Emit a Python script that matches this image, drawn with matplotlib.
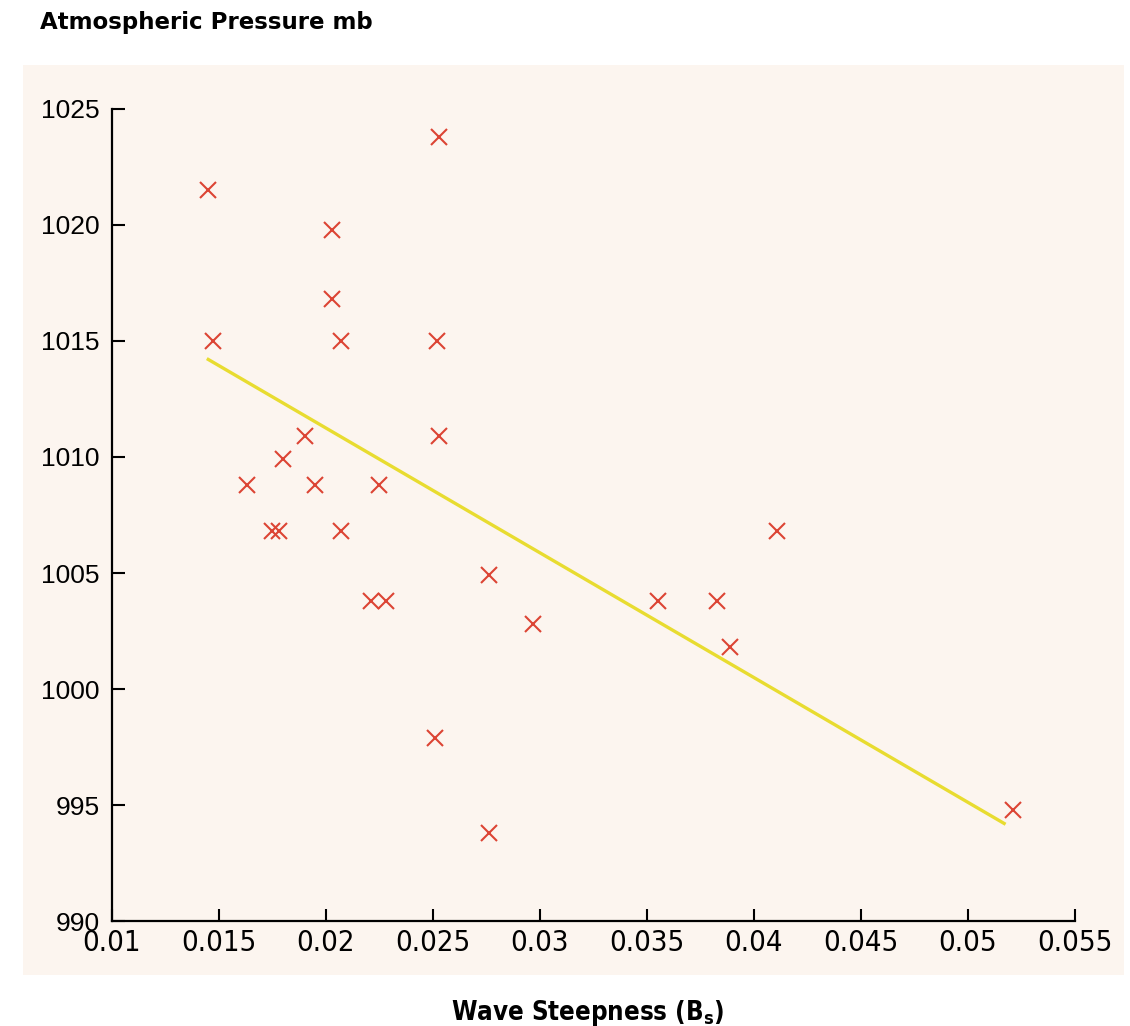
import numpy as np
import matplotlib.pyplot as plt
from matplotlib.patches import Rectangle

# wave steepness vs atmospheric pressure
steepness = [0.0145, 0.0253, 0.0203, 0.0203, 0.0147, 0.0207, 0.0252,
             0.0190, 0.0253, 0.0163, 0.0180, 0.0195, 0.0225, 0.0175,
             0.0178, 0.0207, 0.0276, 0.0221, 0.0228, 0.0297, 0.0251,
             0.0276, 0.0355, 0.0383, 0.0389, 0.0411, 0.0521]
pressure = [1021.5, 1023.8, 1019.8, 1016.8, 1015.0, 1015.0, 1015.0,
            1010.9, 1010.9, 1008.8, 1009.9, 1008.8, 1008.8, 1006.8,
            1006.8, 1006.8, 1004.9, 1003.8, 1003.8, 1002.8, 997.9,
            993.8, 1003.8, 1003.8, 1001.8, 1006.8, 994.8]

# published trend line (pressure = slope * steepness + intercept)
trend_slope = -537.6
trend_intercept = 1022.0
trend_range = [0.0145, 0.0517]

xticks = [0.01, 0.015, 0.02, 0.025, 0.03, 0.035, 0.04, 0.045, 0.05, 0.055]
xticklabels = ['0.01', '0.015', '0.02', '0.025', '0.03', '0.035', '0.04',
               '0.045', '0.05', '0.055']
yticks = [990, 995, 1000, 1005, 1010, 1015, 1020, 1025]

fig = plt.figure(figsize=(11.3, 10.26), dpi=100)
# paper tint behind the plot
fig.patches.append(Rectangle((0.02, 0.05), 0.975, 0.887, transform=fig.transFigure,
                             facecolor='#fcf5ef', edgecolor='none', zorder=-5))
ax = fig.add_axes([0.0991, 0.1023, 0.852, 0.7915])
ax.patch.set_alpha(0)

xs = np.array(trend_range)
ax.plot(xs, trend_slope * xs + trend_intercept, color='#e8dc30', lw=2.4, zorder=2)
ax.plot(steepness, pressure, 'x', color='#dc4434', ms=12, mew=1.5, zorder=3)

ax.set_xlim(0.01, 0.055)
ax.set_ylim(990, 1025)
ax.set_xticks(xticks)
ax.set_xticklabels(xticklabels, family='DejaVu Sans', stretch='condensed', fontsize=21)
ax.set_yticks(yticks)
ax.set_yticklabels([str(v) for v in yticks], family='Liberation Sans', fontsize=19)
ax.tick_params(direction='in', length=9, width=1.5, color='black')
ax.tick_params(axis='x', pad=6)
ax.tick_params(axis='y', pad=9)
for side in ['top', 'right']:
    ax.spines[side].set_visible(False)
for side in ['left', 'bottom']:
    ax.spines[side].set_linewidth(1.6)

fig.text(0.035, 0.978, 'Atmospheric Pressure mb', family='DejaVu Sans', weight='heavy',
         fontsize=16.5, va='center', ha='left')
fig.text(0.52, 0.013, r'Wave Steepness (B$_\mathregular{s}$)',
         family='DejaVu Sans', stretch='condensed', weight='bold', fontsize=18.5,
         va='center', ha='center')

fig.savefig('out.png', dpi=100)
